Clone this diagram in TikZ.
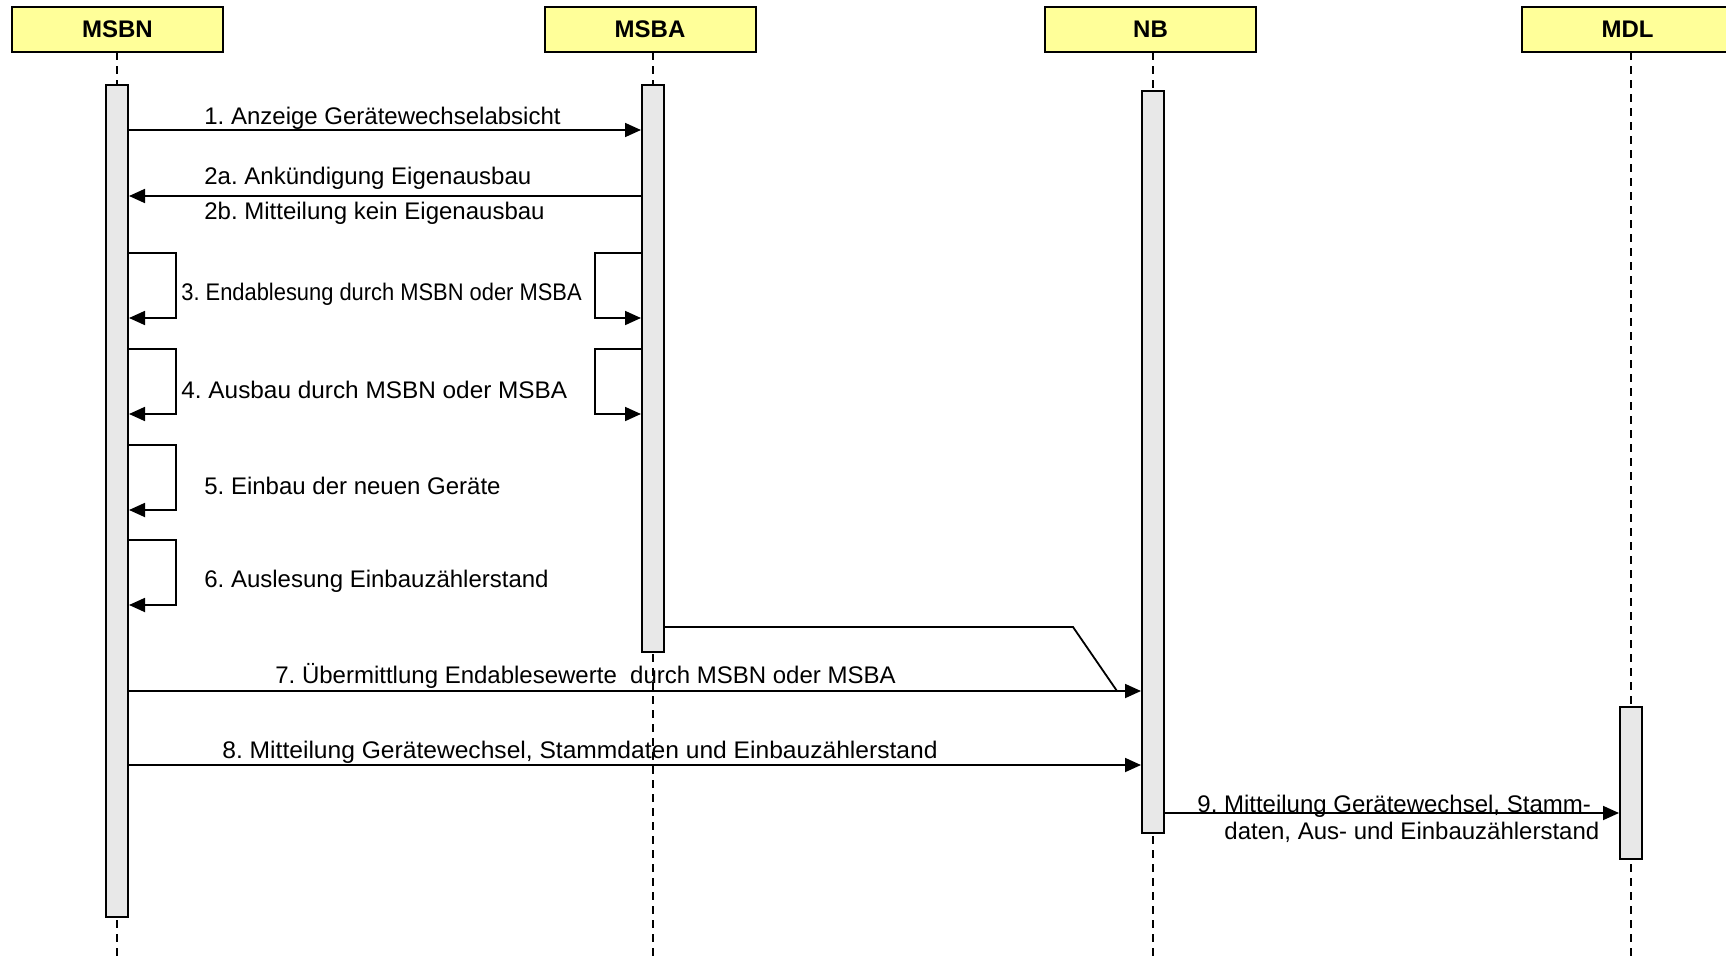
\documentclass[tikz,border=0pt]{standalone}
\usepackage{fontspec}
\setmainfont{Liberation Sans}
\usetikzlibrary{arrows.meta}

\definecolor{headyellow}{HTML}{FFFF99}
\definecolor{bargray}{HTML}{E8E8E8}

\tikzset{
    head/.style={draw, line width=1pt, fill=headyellow, minimum width=105.5pt, minimum height=22.5pt, inner sep=0pt, font=\fontsize{12}{14}\selectfont\bfseries},
    bar/.style={draw, line width=1pt, fill=bargray, minimum width=11pt, inner sep=0pt},
    life/.style={line width=0.8pt, dash pattern=on 4pt off 3pt},
    msg/.style={line width=0.9pt, -{Triangle[length=8pt, width=7pt]}},
    lbl/.style={anchor=west, inner sep=0pt, font=\fontsize{12}{13.5}\selectfont}
}
\frenchspacing

\begin{document}
\begin{tikzpicture}[x=0.5pt, y=-0.5pt]
    \useasboundingbox (0,0) rectangle (1726,958);

    % participants
    \node[head] (msbn) at (117.5, 29.5){MSBN};
    \node[head] (msba) at (650, 29.5){MSBA};
    \node[head] (nb) at (1150.5, 29.5){NB};
    \node[head] (mdl) at (1627.5, 29.5){MDL};

    \draw[life] (117, 52) -- (117, 958);
    \draw[life] (653, 52) -- (653, 958);
    \draw[life] (1153, 52) -- (1153, 958);
    \draw[life] (1631, 52) -- (1631, 958);

    % activation bars
    \node[bar, minimum height=416pt] (msbnbar) at (117, 501){};
    \node[bar, minimum height=283.5pt] (msbabar) at (653, 368.5){};
    \node[bar, minimum height=371pt] (nbbar) at (1153, 462){};
    \node[bar, minimum height=76pt] (mdlbar) at (1631, 783){};

    % 1, 2
    \draw[msg] (msbnbar.east |- 0,130) -- (msbabar.west |- 0,130);
    \node[lbl] (t1) at (204, 118.5){1. Anzeige Gerätewechselabsicht};

    \draw[msg] (msbabar.west |- 0,196) -- (msbnbar.east |- 0,196);
    \node[lbl] (t2a) at (204, 178.5){2a. Ankündigung Eigenausbau};
    \node[lbl] (t2b) at (204, 213.5){2b. Mitteilung kein Eigenausbau};

    % self messages
    \foreach \s in {253, 349, 445, 540}{
        \draw[msg] (msbnbar.east |- 0,\s) -- ++(47,0) |- (msbnbar.east |- 0,\s+65);
    }
    \foreach \s in {253, 349}{
        \draw[msg] (msbabar.west |- 0,\s) -- ++(-46,0) |- (msbabar.west |- 0,\s+65);
    }
    \node[lbl] (t3) at (181, 294.5){\scalebox{0.912}[1]{3. Endablesung durch MSBN oder MSBA}};
    \node[lbl] (t4) at (181, 389.5){\scalebox{1.015}[1]{4. Ausbau durch MSBN oder MSBA}};
    \node[lbl] (t5) at (204, 485.5){5. Einbau der neuen Geräte};
    \node[lbl] (t6) at (204, 581.5){6. Auslesung Einbauzählerstand};

    % 7, 8
    \coordinate (join) at (1117, 691);
    \draw[line width=0.9pt] (msbabar.east |- 0,627) -- (1073, 627) -- (join);
    \draw[msg] (msbnbar.east |- 0,691) -- (nbbar.west |- 0,691);
    \node[lbl] (t7) at (275, 675.5){7. Übermittlung Endablesewerte\ \ durch MSBN oder MSBA};

    \draw[msg] (msbnbar.east |- 0,765) -- (nbbar.west |- 0,765);
    \node[lbl] (t8) at (222, 752.5){\scalebox{1.025}[1]{8. Mitteilung Gerätewechsel, Stammdaten und Einbauzählerstand}};

    % 9
    \draw[msg] (nbbar.east |- 0,813) -- (mdlbar.west |- 0,813);
    \node[lbl, align=left] (t9) at (1197, 819){9. Mitteilung Gerätewechsel, Stamm-\\\hspace*{13.5pt}daten, Aus- und Einbauzählerstand};
\end{tikzpicture}
\end{document}
